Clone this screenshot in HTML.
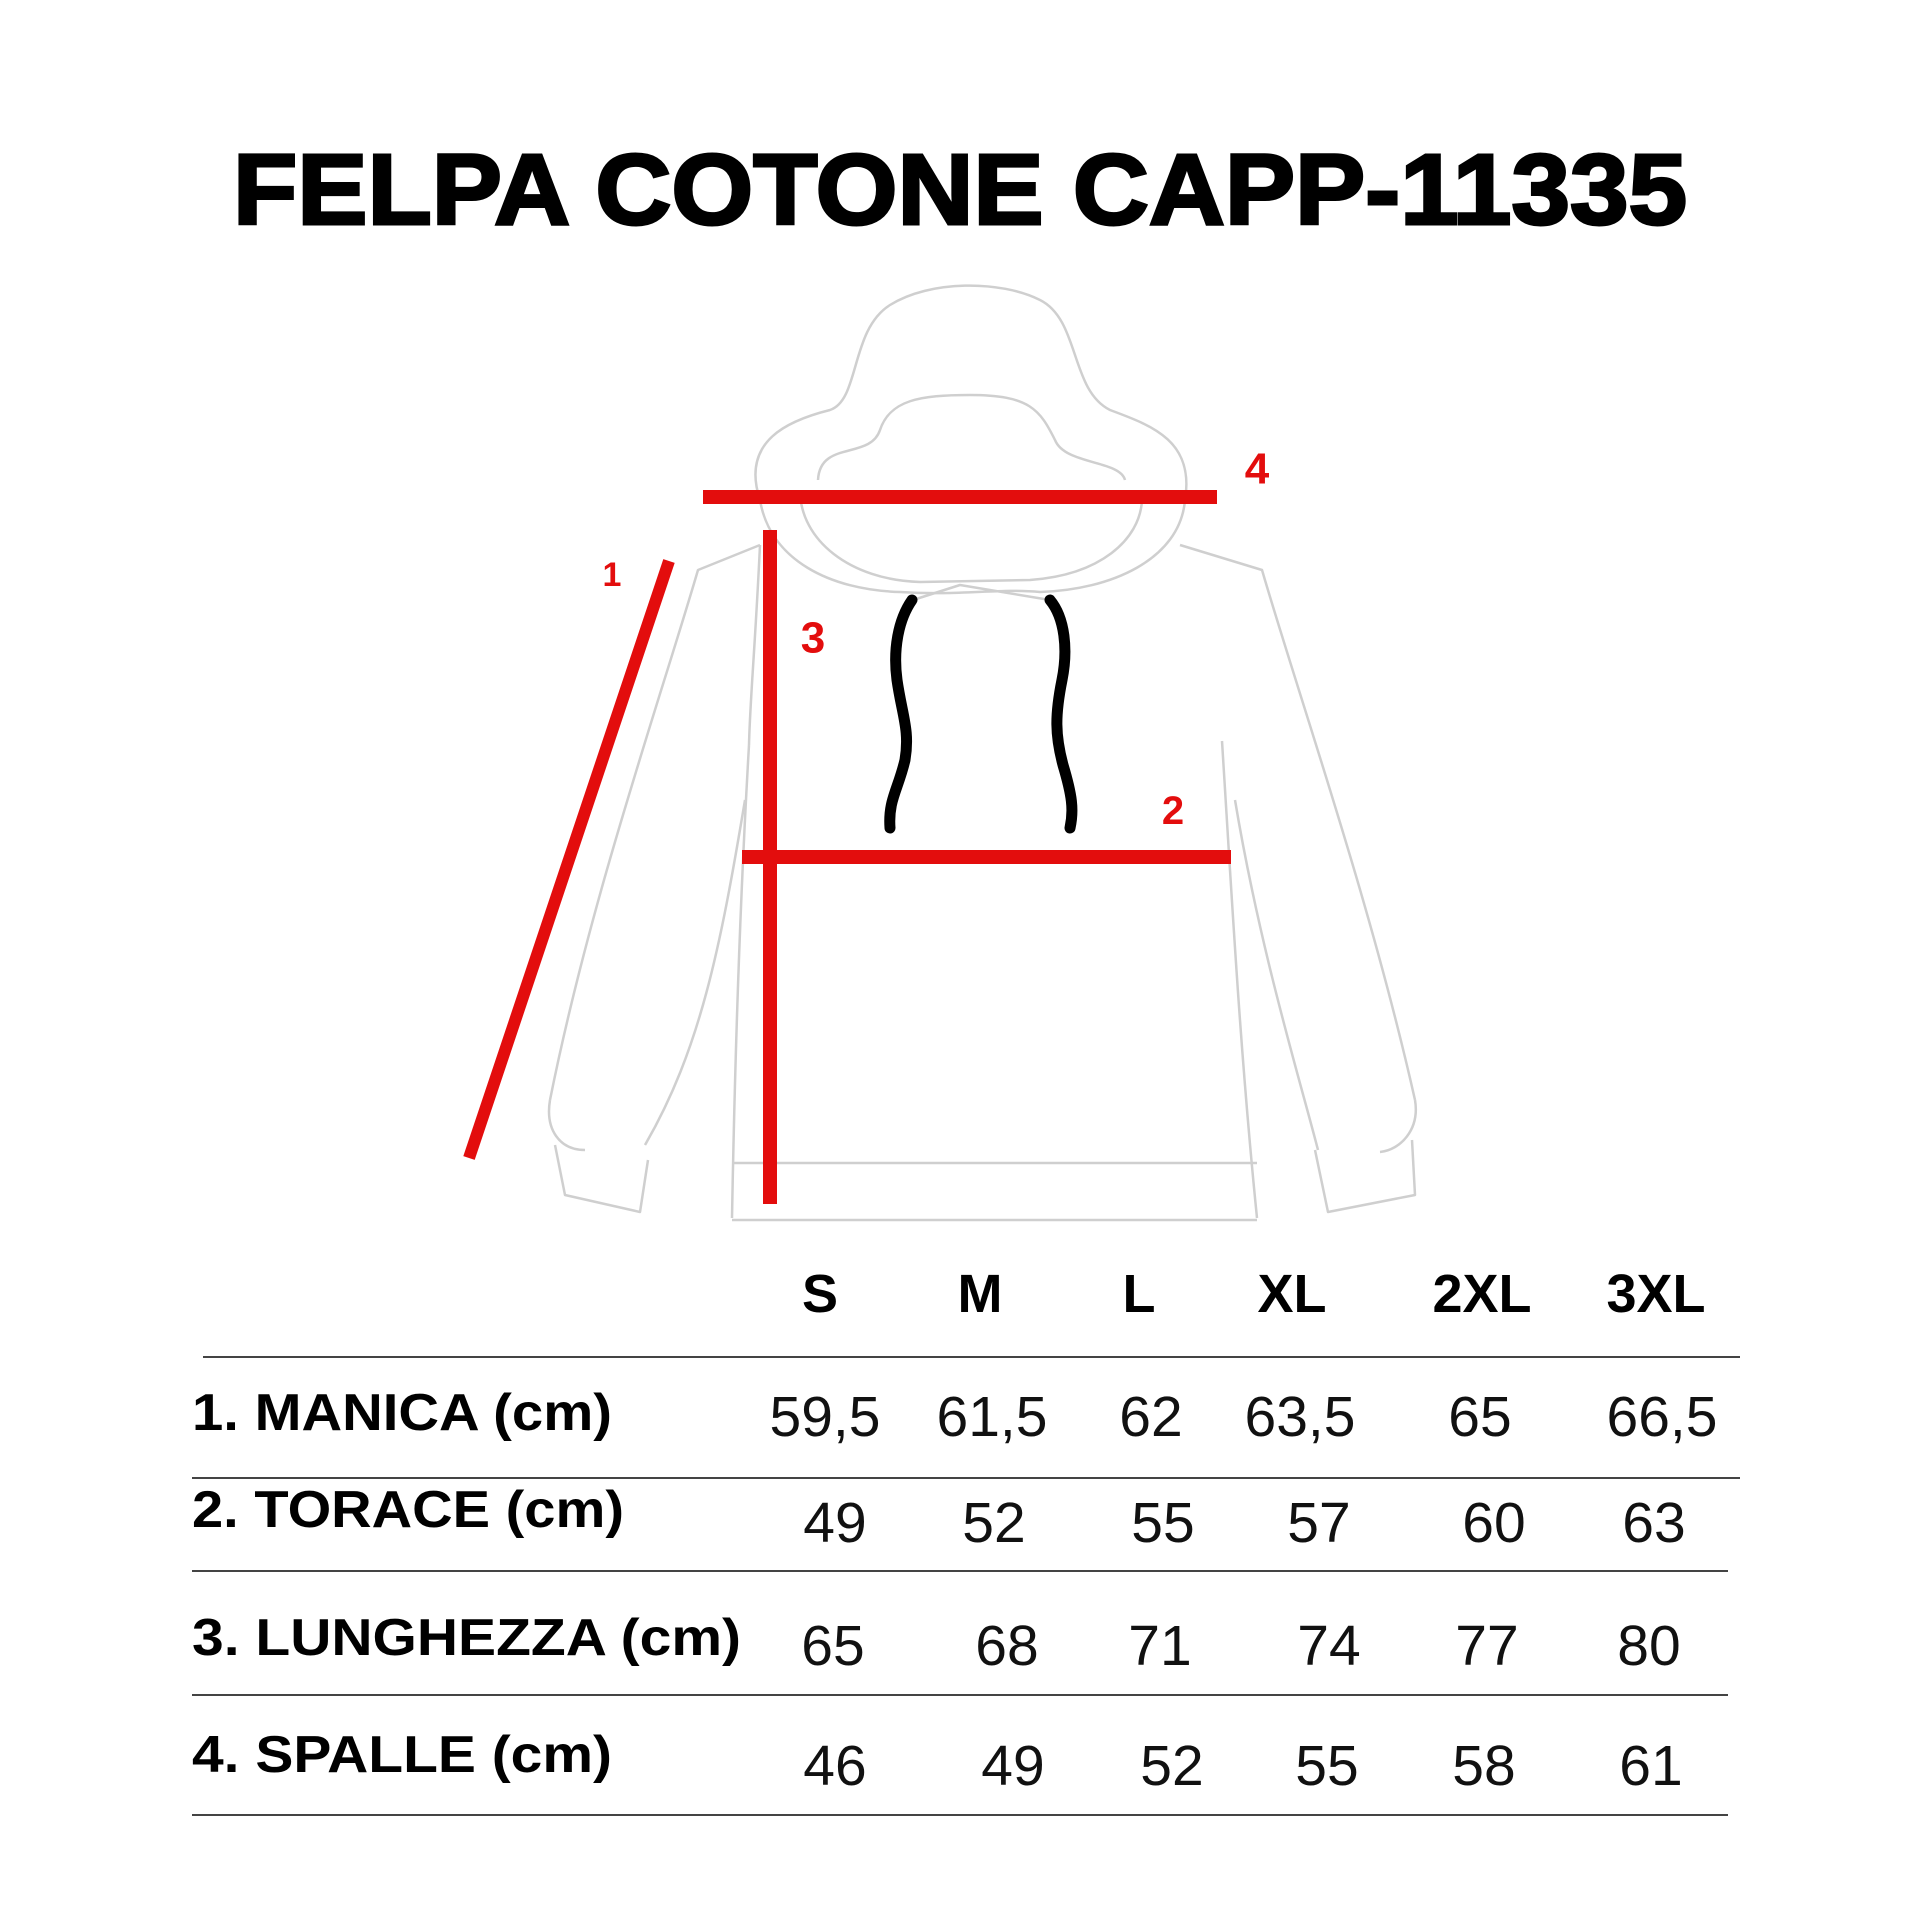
<!DOCTYPE html>
<html><head><meta charset="utf-8"><style>
html,body{margin:0;padding:0;background:#fff;}
svg{display:block;}
text{font-family:"Liberation Sans",sans-serif;}
</style></head><body>
<svg width="1920" height="1920" viewBox="0 0 1920 1920" xmlns="http://www.w3.org/2000/svg">
<rect width="1920" height="1920" fill="#fff"/>
<text x="960" y="224" text-anchor="middle" font-size="100" font-weight="bold" textLength="1454" lengthAdjust="spacingAndGlyphs" fill="#000" stroke="#000" stroke-width="3">FELPA COTONE CAPP-11335</text>

<g fill="none" stroke="#cfcfcf" stroke-width="2.5" stroke-linejoin="round">
<path d="M760,500 C740,440 790,420 830,410 C860,400 850,330 890,305 C930,280 1000,280 1040,300 C1080,320 1070,390 1110,410 C1150,425 1195,440 1185,500"/>
<path d="M818,480 C820,440 870,460 880,430 C890,400 920,395 970,395 C1030,395 1040,410 1055,440 C1065,465 1120,460 1125,480"/>
<path d="M760,500 C770,560 830,590 900,592 C960,596 1000,588 1040,592 C1110,590 1180,560 1185,500"/>
<path d="M800,490 C800,540 850,580 920,582 L1030,580 C1100,575 1140,540 1142,500"/>
<path d="M913,600 L960,585 L1050,600"/>
<path d="M760,545 L698,570 C660,700 590,900 550,1100"/>
<path d="M550,1100 C545,1130 560,1150 585,1150"/>
<path d="M760,545 C755,650 750,700 749,745"/>
<path d="M1180,545 L1262,570 C1300,700 1370,900 1415,1100"/>
<path d="M1415,1100 C1420,1130 1400,1150 1380,1152"/>
<path d="M1222,741 C1232,900 1240,1050 1257,1218"/>
<path d="M749,745 C740,900 735,1050 732,1218"/>
<path d="M745,800 C720,950 700,1050 645,1145"/>
<path d="M1235,800 C1260,950 1300,1080 1318,1150"/>
<path d="M555,1145 L565,1195 L640,1212 L648,1160"/>
<path d="M1315,1150 L1328,1212 L1415,1195 L1412,1140"/>
<path d="M732,1163 L1257,1163"/>
<path d="M732,1220 L1257,1220"/>
</g>

<g fill="none" stroke="#000" stroke-width="11" stroke-linecap="round">
<path d="M912,600 C898,620 893,650 897,680 C902,715 910,730 905,760 C898,790 888,800 890,828"/>
<path d="M1050,600 C1065,618 1068,650 1062,680 C1055,715 1055,735 1063,765 C1072,795 1074,810 1070,828"/>
</g>

<g stroke="#e30d0d" stroke-width="14" fill="none">
<line x1="703" y1="497" x2="1217" y2="497"/>
<line x1="770" y1="530" x2="770" y2="1204"/>
<line x1="742" y1="857" x2="1231" y2="857"/>
<line x1="669" y1="561" x2="469" y2="1158" stroke-width="12"/>
</g>
<g fill="#e30d0d" font-weight="bold" text-anchor="middle" dominant-baseline="central">
<text x="1257" y="469" font-size="44">4</text>
<text x="813" y="638" font-size="44">3</text>
<text x="1173" y="811" font-size="40">2</text>
<text x="612" y="575" font-size="34">1</text>
</g>

<g font-weight="bold" font-size="54" text-anchor="middle" dominant-baseline="central" fill="#000">
<text x="820" y="1294">S</text>
<text x="980" y="1294">M</text>
<text x="1139" y="1294">L</text>
<text x="1292" y="1294">XL</text>
<text x="1482" y="1294">2XL</text>
<text x="1656" y="1294">3XL</text>
</g>
<g stroke="#444" stroke-width="2">
<line x1="203" y1="1357" x2="1740" y2="1357"/>
<line x1="192" y1="1478" x2="1740" y2="1478"/>
<line x1="192" y1="1571" x2="1728" y2="1571"/>
<line x1="192" y1="1695" x2="1728" y2="1695"/>
<line x1="192" y1="1815" x2="1728" y2="1815"/>
</g>
<g font-weight="bold" font-size="52" dominant-baseline="central" fill="#000">
<text x="192" y="1413" textLength="420" lengthAdjust="spacingAndGlyphs">1. MANICA (cm)</text>
<text x="192" y="1510" textLength="432" lengthAdjust="spacingAndGlyphs">2. TORACE (cm)</text>
<text x="192" y="1638" textLength="549" lengthAdjust="spacingAndGlyphs">3. LUNGHEZZA (cm)</text>
<text x="192" y="1755" textLength="420" lengthAdjust="spacingAndGlyphs">4. SPALLE (cm)</text>
</g>
<g font-size="57" text-anchor="middle" dominant-baseline="central" fill="#111">
<text x="825" y="1417">59,5</text><text x="992" y="1417">61,5</text><text x="1151" y="1417">62</text><text x="1300" y="1417">63,5</text><text x="1480" y="1417">65</text><text x="1662" y="1417">66,5</text>
<text x="835" y="1523">49</text><text x="994" y="1523">52</text><text x="1163" y="1523">55</text><text x="1319" y="1523">57</text><text x="1494" y="1523">60</text><text x="1654" y="1523">63</text>
<text x="833" y="1646">65</text><text x="1007" y="1646">68</text><text x="1160" y="1646">71</text><text x="1329" y="1646">74</text><text x="1487" y="1646">77</text><text x="1649" y="1646">80</text>
<text x="835" y="1766">46</text><text x="1013" y="1766">49</text><text x="1172" y="1766">52</text><text x="1327" y="1766">55</text><text x="1484" y="1766">58</text><text x="1651" y="1766">61</text>
</g>
</svg>
</body></html>
